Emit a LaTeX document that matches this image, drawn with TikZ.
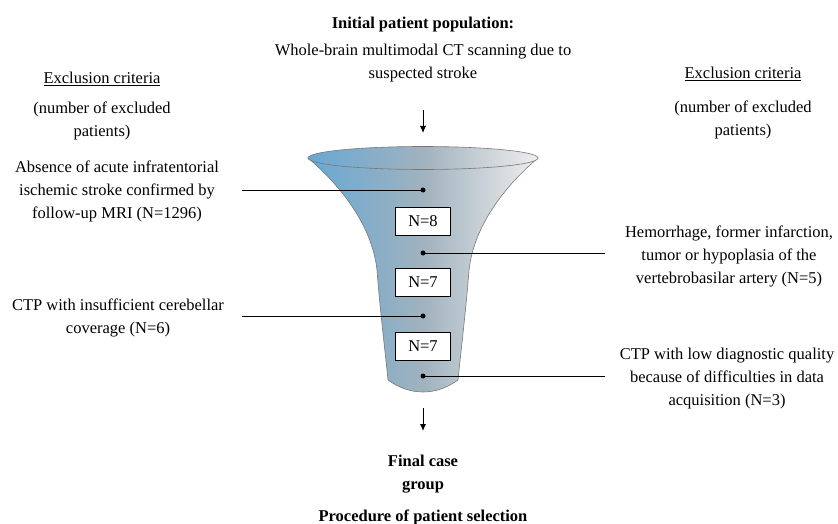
\documentclass[tikz,border=0pt]{standalone}
\usepackage{fontspec}
\setmainfont{Liberation Serif}
\usetikzlibrary{arrows.meta}
\definecolor{funL}{RGB}{104,168,212}
\definecolor{funM}{RGB}{160,178,190}
\definecolor{funR}{RGB}{238,238,238}
\definecolor{funEdge}{RGB}{120,120,120}
\tikzset{
  txt/.style={inner sep=0pt, align=center, font=\fontsize{16.5}{23}\selectfont},
  btxt/.style={txt, font=\fontsize{16.5}{23}\selectfont\bfseries},
  nbox/.style={draw=black, fill=white, line width=0.7pt, minimum width=55pt, minimum height=28pt, inner sep=0pt, font=\fontsize{16.5}{20}\selectfont},
  dotp/.style={circle, fill=black, inner sep=0pt, minimum size=5pt},
  lead/.style={line width=0.9pt},
  arr/.style={line width=0.9pt, -{Latex[length=7pt,width=6pt]}},
  funfill/.style={left color=funL, right color=funR, middle color=funM, draw=funEdge, line width=0.6pt}
}
\begin{document}
\begin{tikzpicture}[x=1pt,y=-1pt]
\useasboundingbox (0,0) rectangle (838,524);

% funnel body
\path[funfill] (308,158)
  .. controls (340,185) and (372,225) .. (377,270)
  .. controls (380,310) and (385,350) .. (388,380)
  .. controls (410,396) and (436,396) .. (458,380)
  .. controls (461,350) and (466,310) .. (469,270)
  .. controls (474,225) and (506,185) .. (538,158) -- cycle;
% funnel rim
\path[funfill] (423,158) ellipse [x radius=115, y radius=11.5];

% titles
\node[btxt, anchor=north] (title) at (423,17) {Initial patient population:};
\node[txt, anchor=north] (initial) at (423,44) {Whole-brain multimodal CT scanning due to\\suspected stroke};
\node[txt, anchor=base] (exL) at (102,84) {\underline{Exclusion criteria}};
\node[txt, anchor=north] (numL) at (102,102) {(number of excluded\\patients)};
\node[txt, anchor=base] (exR) at (743,79) {\underline{Exclusion criteria}};
\node[txt, anchor=north] (numR) at (743,101) {(number of excluded\\patients)};

% criteria
\node[txt, anchor=north] (c1) at (117,161) {Absence of acute infratentorial\\ischemic stroke confirmed by\\follow-up MRI (N=1296)};
\node[txt, anchor=north] (c2) at (729,226) {Hemorrhage, former infarction,\\tumor or hypoplasia of the\\vertebrobasilar artery (N=5)};
\node[txt, anchor=north] (c3) at (118,299) {CTP with insufficient cerebellar\\coverage (N=6)};
\node[txt, anchor=north] (c4) at (727,348) {CTP with low diagnostic quality\\because of difficulties in data\\acquisition (N=3)};

% dots
\node[dotp] (d1) at (423,190) {};
\node[dotp] (d2) at (423,253) {};
\node[dotp] (d3) at (423,316) {};
\node[dotp] (d4) at (423,376) {};

% boxes
\node[nbox] (b1) at (423,221) {N=8};
\node[nbox] (b2) at (423,282) {N=7};
\node[nbox] (b3) at (423,346) {N=7};

% leader line ends
\coordinate (e1) at (242,190);
\coordinate (e2) at (605,253);
\coordinate (e3) at (242,316);
\coordinate (e4) at (605,376);
\draw[lead] (e1) -- (d1.center);
\draw[lead] (d2.center) -- (e2);
\draw[lead] (e3) -- (d3.center);
\draw[lead] (d4.center) -- (e4);

% arrows
\coordinate (a1s) at (423,110);
\coordinate (a1e) at (423,133);
\coordinate (a2s) at (423,408);
\coordinate (a2e) at (423,431);
\draw[arr] (a1s) -- (a1e);
\draw[arr] (a2s) -- (a2e);

% bottom
\node[btxt, anchor=north] (final) at (423,455) {Final case\\group};
\node[btxt, anchor=base] (proc) at (423,521) {Procedure of patient selection};
\end{tikzpicture}
\end{document}
